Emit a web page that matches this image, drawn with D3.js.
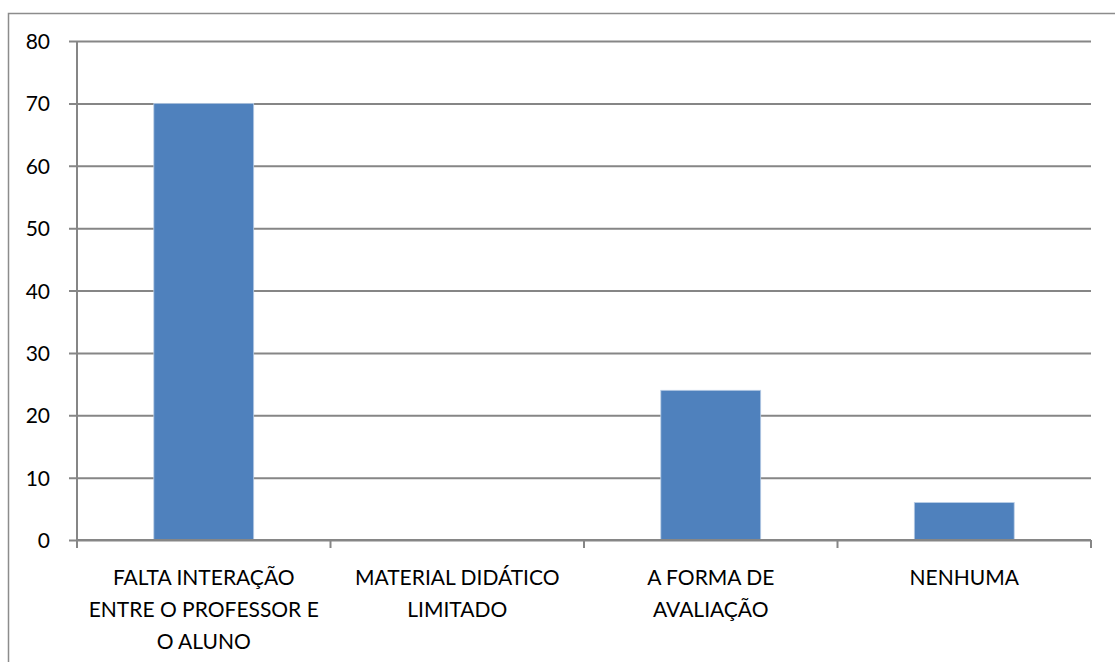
<!DOCTYPE html>
<html>
<head>
<meta charset="utf-8">
<script src="https://cdn.jsdelivr.net/npm/d3@7"></script>
<style>
  html, body { margin: 0; padding: 0; background: #fff; }
  svg { display: block; }
  text { font-family: Lato, "Liberation Sans", sans-serif; fill: #000; }
</style>
</head>
<body>
<svg id="chart" width="1115" height="662"></svg>
<script>
// Categories (each label split into its wrapped lines) and their values
const categories = [
  ["FALTA INTERAÇÃO", "ENTRE O PROFESSOR E", "O ALUNO"],
  ["MATERIAL DIDÁTICO", "LIMITADO"],
  ["A FORMA DE", "AVALIAÇÃO"],
  ["NENHUMA"]
];
const values = [70, 0, 24, 6];
const yTicks = [0, 10, 20, 30, 40, 50, 60, 70, 80];

const svg = d3.select("#chart");
const plotLeft = 77, plotRight = 1091, plotTop = 41, plotBottom = 540;

// outer chart frame
svg.append("rect")
  .attr("x", 8.5).attr("y", 13.5)
  .attr("width", 1125).attr("height", 700)
  .attr("fill", "none").attr("stroke", "#8c8c8c").attr("stroke-width", 1.5);

const x = d3.scaleBand()
  .domain(d3.range(categories.length))
  .range([plotLeft, plotRight])
  .paddingInner(0.606)
  .paddingOuter(0.303);

const y = d3.scaleLinear().domain([0, 80]).range([plotBottom, plotTop]);

// horizontal gridlines with left tick marks
const yAxis = d3.axisLeft(y).tickValues(yTicks).tickSize(-(plotRight - plotLeft)).tickSizeOuter(0);
const gy = svg.append("g").attr("transform", `translate(${plotLeft},0)`).call(yAxis);
gy.select(".domain").remove();
gy.selectAll(".tick line")
  .attr("x1", -8)
  .attr("stroke", "#868686").attr("stroke-width", 2);
gy.selectAll(".tick text")
  .attr("x", -27)
  .attr("dy", "0.36em")
  .style("font-size", "21px")
  .style("font-family", "Lato, 'Liberation Sans', sans-serif")
  .attr("fill", "#000");

// vertical value axis line
svg.append("line")
  .attr("x1", plotLeft).attr("x2", plotLeft)
  .attr("y1", plotTop).attr("y2", plotBottom + 8)
  .attr("stroke", "#868686").attr("stroke-width", 2);

// bars
svg.append("g").selectAll("rect")
  .data(values)
  .join("rect")
  .attr("x", (d, i) => x(i))
  .attr("width", x.bandwidth())
  .attr("y", d => y(d))
  .attr("height", d => y(0) - y(d))
  .attr("fill", "#4f81bd")
  .attr("stroke", d => d > 0 ? "#b9cde5" : "none")
  .attr("stroke-width", 0.8);

// category axis line and boundary ticks
svg.append("line")
  .attr("x1", plotLeft).attr("x2", plotRight)
  .attr("y1", plotBottom).attr("y2", plotBottom)
  .attr("stroke", "#868686").attr("stroke-width", 2);
const step = x.step();
svg.append("g").selectAll("line")
  .data(d3.range(categories.length + 1))
  .join("line")
  .attr("x1", i => plotLeft + i * step).attr("x2", i => plotLeft + i * step)
  .attr("y1", plotBottom).attr("y2", plotBottom + 8)
  .attr("stroke", "#868686").attr("stroke-width", 2);

// category labels
const lab = svg.append("g").selectAll("text")
  .data(categories)
  .join("text")
  .attr("text-anchor", "middle")
  .style("font-size", "21px");
lab.selectAll("tspan")
  .data((d, i) => d.map(t => ({ t, i })))
  .join("tspan")
  .attr("x", d => x(d.i) + x.bandwidth() / 2)
  .attr("y", (d, j) => 585 + j * 32)
  .text(d => d.t);
</script>
</body>
</html>
